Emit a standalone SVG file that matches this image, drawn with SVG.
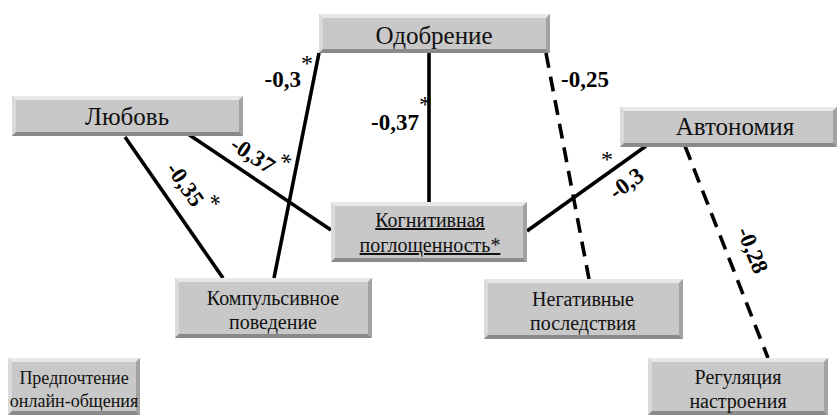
<svg xmlns="http://www.w3.org/2000/svg" width="838" height="416" viewBox="0 0 838 416" font-family="Liberation Serif, Times New Roman, DejaVu Serif, serif">
<style>
.face{fill:#c8c8c8}
.bt{fill:#e8e8e8}
.bl{fill:#dadada}
.bb{fill:#8a8a8a}
.br{fill:#a2a2a2}
.t{fill:#111;text-anchor:middle}
.big{font-size:25px}
.sm{font-size:20px}
.xs{font-size:18px}
.u{text-decoration:underline}
.ln{stroke:#000;stroke-width:3.6;fill:none}
.dash{stroke-dasharray:15 9}
.lab{font-weight:bold;font-size:23px;fill:#000}
.st{font-weight:normal;font-size:24px;fill:#000}
.star{font-size:24px;fill:#000;text-anchor:middle}
</style>
<rect width="838" height="416" fill="#fff"/>
<g id="connectors">
<line class="ln" x1="125" y1="137" x2="223" y2="278"/>
<line class="ln" x1="188" y1="134" x2="331" y2="230"/>
<line class="ln" x1="319" y1="53" x2="274" y2="278"/>
<line class="ln" x1="429" y1="53" x2="429" y2="202"/>
<line class="ln dash" x1="546" y1="53" x2="589" y2="279"/>
<line class="ln" x1="646" y1="146" x2="527" y2="231"/>
<line class="ln dash" x1="685" y1="146" x2="768" y2="358"/>
</g>
<g id="labels">
<text class="lab" x="313" y="87" text-anchor="end">-0,3<tspan class="st" dy="-16">*</tspan></text>
<text class="lab" x="431" y="130" text-anchor="end">-0,37<tspan class="st" dy="-18">*</tspan></text>
<text class="lab" x="561" y="87">-0,25</text>
<g transform="translate(258,158) rotate(34)">
<text class="lab" x="0" y="8" text-anchor="middle">-0,37<tspan class="st" dy="-12">*</tspan></text>
</g>
<g transform="translate(189,189) rotate(55)">
<text class="lab" x="0" y="8" text-anchor="middle">-0,35<tspan class="st" dy="-12">*</tspan></text>
</g>
<g transform="translate(626,183) rotate(-36)">
<text class="lab" x="0" y="8" text-anchor="middle">-0,3</text>
</g>
<text class="star" x="607" y="167">*</text>
<g transform="translate(753,250) rotate(68)">
<text class="lab" x="0" y="8" text-anchor="middle">-0,28</text>
</g>
</g>
<g id="odobrenie">
<rect class="face" x="319" y="14" width="231" height="39"/>
<polygon class="bt" points="319,14 550,14 546,18 323,18"/>
<polygon class="bl" points="319,14 323,18 323,49 319,53"/>
<polygon class="bb" points="319,53 323,49 546,49 550,53"/>
<polygon class="br" points="550,14 550,53 546,49 546,18"/>
<text class="t big" x="434" y="44">Одобрение</text>
</g>
<g id="lyubov">
<rect class="face" x="12" y="96" width="231" height="40"/>
<polygon class="bt" points="12,96 243,96 239,100 16,100"/>
<polygon class="bl" points="12,96 16,100 16,132 12,136"/>
<polygon class="bb" points="12,136 16,132 239,132 243,136"/>
<polygon class="br" points="243,96 243,136 239,132 239,100"/>
<text class="t big" x="127" y="125">Любовь</text>
</g>
<g id="avtonomiya">
<rect class="face" x="620" y="107" width="217" height="40"/>
<polygon class="bt" points="620,107 837,107 833,111 624,111"/>
<polygon class="bl" points="620,107 624,111 624,143 620,147"/>
<polygon class="bb" points="620,147 624,143 833,143 837,147"/>
<polygon class="br" points="837,107 837,147 833,143 833,111"/>
<text class="t big" x="735" y="135">Автономия</text>
</g>
<g id="kognitivnaya">
<rect class="face" x="331" y="202" width="196" height="60"/>
<polygon class="bt" points="331,202 527,202 523,206 335,206"/>
<polygon class="bl" points="331,202 335,206 335,258 331,262"/>
<polygon class="bb" points="331,262 335,258 523,258 527,262"/>
<polygon class="br" points="527,202 527,262 523,258 523,206"/>
<text class="t sm u" x="430" y="227">Когнитивная</text>
<text class="t sm u" x="430" y="252">поглощенность*</text>
</g>
<g id="kompulsivnoe">
<rect class="face" x="175" y="278" width="197" height="60"/>
<polygon class="bt" points="175,278 372,278 368,282 179,282"/>
<polygon class="bl" points="175,278 179,282 179,334 175,338"/>
<polygon class="bb" points="175,338 179,334 368,334 372,338"/>
<polygon class="br" points="372,278 372,338 368,334 368,282"/>
<text class="t sm" x="273" y="305">Компульсивное</text>
<text class="t sm" x="273" y="329">поведение</text>
</g>
<g id="negativnye">
<rect class="face" x="484" y="279" width="199" height="60"/>
<polygon class="bt" points="484,279 683,279 679,283 488,283"/>
<polygon class="bl" points="484,279 488,283 488,335 484,339"/>
<polygon class="bb" points="484,339 488,335 679,335 683,339"/>
<polygon class="br" points="683,279 683,339 679,335 679,283"/>
<text class="t sm" x="583" y="306">Негативные</text>
<text class="t sm" x="583" y="330">последствия</text>
</g>
<g id="predpochtenie">
<rect class="face" x="8" y="358" width="132" height="57"/>
<polygon class="bt" points="8,358 140,358 136,362 12,362"/>
<polygon class="bl" points="8,358 12,362 12,411 8,415"/>
<polygon class="bb" points="8,415 12,411 136,411 140,415"/>
<polygon class="br" points="140,358 140,415 136,411 136,362"/>
<text class="t xs" x="74" y="384">Предпочтение</text>
<text class="t xs" x="74" y="407">онлайн-общения</text>
</g>
<g id="regulyaciya">
<rect class="face" x="648" y="358" width="180" height="57"/>
<polygon class="bt" points="648,358 828,358 824,362 652,362"/>
<polygon class="bl" points="648,358 652,362 652,411 648,415"/>
<polygon class="bb" points="648,415 652,411 824,411 828,415"/>
<polygon class="br" points="828,358 828,415 824,411 824,362"/>
<text class="t sm" x="738" y="384">Регуляция</text>
<text class="t sm" x="738" y="408">настроения</text>
</g>
</svg>
